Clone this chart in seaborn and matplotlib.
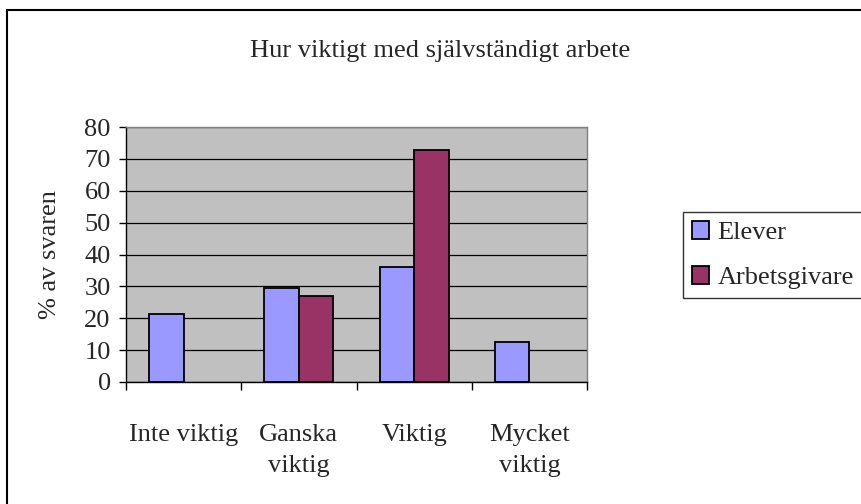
import matplotlib
matplotlib.use("Agg")
import matplotlib.pyplot as plt
import seaborn as sns
import pandas as pd
from matplotlib.patches import Rectangle

# data
categories = ["Inte viktig", "Ganska\nviktig", "Viktig", "Mycket\nviktig"]
elever = [21.2, 29.5, 36.0, 12.4]
arbetsgivare = [0.0, 27.1, 72.8, 0.0]
series_names = ["Elever", "Arbetsgivare"]
y_ticks = [0, 10, 20, 30, 40, 50, 60, 70, 80]

df = pd.DataFrame({
    "Kategori": categories * 2,
    "Serie": [series_names[0]] * 4 + [series_names[1]] * 4,
    "Procent": elever + arbetsgivare,
})

sns.set_style("white")
plt.rcParams["font.family"] = ["Liberation Serif", "DejaVu Serif"]
FS = 19

fig = plt.figure(figsize=(8.61, 5.04), dpi=100)
ax = fig.add_axes([126 / 861, 1 - 382 / 504, 461 / 861, 255 / 504])

sns.barplot(data=df, x="Kategori", y="Procent", hue="Serie",
            palette=["#9999FF", "#993366"], width=0.6,
            edgecolor="black", linewidth=1.3, saturation=1, ax=ax,
            legend=True)

# zero-valued bars are invisible in the original
for bar in ax.patches:
    if bar.get_height() == 0:
        bar.set_linewidth(0)

ax.set_facecolor("#C0C0C0")
ax.set_ylim(0, 80)
ax.set_xlim(-0.5, 3.5)
ax.set_yticks(y_ticks)
ax.yaxis.grid(True, color="black", linewidth=0.9)
ax.set_axisbelow(True)

for side in ["top", "right"]:
    ax.spines[side].set_color("#808080")
    ax.spines[side].set_linewidth(1)
for side in ["left", "bottom"]:
    ax.spines[side].set_color("black")
    ax.spines[side].set_linewidth(1)

ax.tick_params(axis="y", direction="out", length=5, width=1, color="black",
               labelsize=FS, pad=6, left=True)
ax.tick_params(axis="x", which="major", length=0, labelsize=FS, pad=30)
ax.set_xticks([-0.5, 0.5, 1.5, 2.5, 3.5], minor=True)
ax.tick_params(axis="x", which="minor", direction="out", length=6, width=1,
               color="black", bottom=True)
for lbl in ax.get_xticklabels():
    lbl.set_linespacing(1.55)

ax.set_xlabel("")
ax.set_ylabel("% av svaren", fontsize=FS, labelpad=17)

fig.text(440 / 861, 1 - 51 / 504, "Hur viktigt med självständigt arbete",
         ha="center", va="center", fontsize=FS)

leg = ax.legend(loc="upper left", bbox_to_anchor=(683 / 861, 1 - 212 / 504),
                bbox_transform=fig.transFigure, fontsize=FS, frameon=True,
                fancybox=False, edgecolor="black", borderpad=0.35,
                handlelength=0.65, handleheight=0.65, handletextpad=0.3,
                labelspacing=0.82, borderaxespad=0)
leg.get_frame().set_linewidth(1)
for h, c in zip(leg.legend_handles, ["#9999FF", "#993366"]):
    h.set_facecolor(c)
    h.set_edgecolor("black")
    h.set_linewidth(1.3)

# outer chart border (only the top and left edges show in the reference)
fig.patches.append(Rectangle((7 / 861, -0.1), 1.2, 1 - 10 / 504 + 0.1,
                             transform=fig.transFigure, fill=False,
                             edgecolor="black", linewidth=1.5))

fig.savefig("out.png", dpi=100)
